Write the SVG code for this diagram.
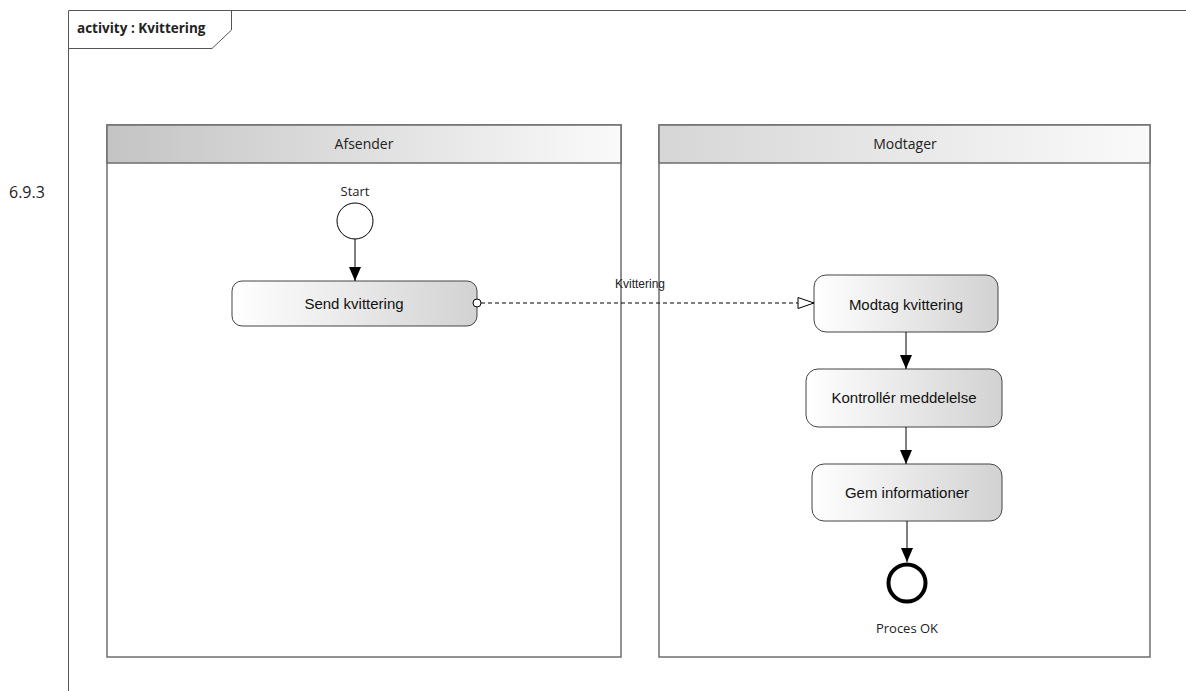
<svg xmlns="http://www.w3.org/2000/svg" width="1186" height="691" viewBox="0 0 1186 691">
<style>
.frame{fill:none;stroke:#555;stroke-width:1}
.lane{fill:#fff;stroke:#6e6e6e;stroke-width:1.5}
.hdr{stroke:#6e6e6e;stroke-width:1.5}
.cal{font-family:"Open Sans","Noto Sans",sans-serif;fill:#222}
.act{fill:url(#actGrad);stroke:#444;stroke-width:1}
.atxt{font-family:"Liberation Sans",Arial,sans-serif;font-size:15px;fill:#111;text-anchor:middle}
.flow{fill:none;stroke:#000;stroke-width:1}
</style>
<defs>
<linearGradient id="hdrGrad" x1="0" y1="0" x2="1" y2="0">
<stop offset="0" stop-color="#c4c4c4"/>
<stop offset="1" stop-color="#fafafa"/>
</linearGradient>
<linearGradient id="hdrGrad2" x1="0" y1="0" x2="1" y2="0">
<stop offset="0" stop-color="#d6d6d6"/>
<stop offset="1" stop-color="#fafafa"/>
</linearGradient>
<linearGradient id="actGrad" x1="0" y1="0" x2="1" y2="0">
<stop offset="0" stop-color="#ffffff"/>
<stop offset="1" stop-color="#d2d2d2"/>
</linearGradient>
<marker id="filled" markerWidth="14" markerHeight="16" refX="14" refY="8" orient="auto" markerUnits="userSpaceOnUse">
<path d="M0,2 L14,8 L0,14 Z" fill="#000"/>
</marker>
<marker id="open" markerWidth="20" markerHeight="14" refX="17" refY="7" orient="auto" markerUnits="userSpaceOnUse">
<path d="M1,1.5 L17,7 L1,12.5 Z" fill="#fff" stroke="#000" stroke-width="1"/>
</marker>
</defs>
<rect width="1186" height="691" fill="#fff"/>
<g id="frame">
<path class="frame" d="M68.5,691 V10.5 H1186"/>
<path class="frame" d="M68.5,48.5 H212 L231.5,30 V10.5"/>
<text class="cal" x="77" y="33" font-size="13.5" font-weight="bold">activity : Kvittering</text>
</g>
<text id="section" class="cal" x="9" y="198" font-size="16" fill="#333">6.9.3</text>
<g id="lane-afsender">
<rect class="lane" x="107" y="125" width="514" height="532"/>
<rect class="hdr" x="107" y="125" width="514" height="38" fill="url(#hdrGrad)"/>
<text class="cal" x="364" y="149" font-size="14" text-anchor="middle">Afsender</text>
</g>
<g id="lane-modtager">
<rect class="lane" x="659" y="125" width="491" height="532"/>
<rect class="hdr" x="659" y="125" width="491" height="38" fill="url(#hdrGrad2)"/>
<text class="cal" x="905" y="149" font-size="14" text-anchor="middle">Modtager</text>
</g>
<g id="start">
<circle cx="355" cy="221" r="18" fill="#fff" stroke="#000" stroke-width="1"/>
<text class="cal" x="355" y="196" font-size="13" text-anchor="middle">Start</text>
</g>
<g id="send-kvittering">
<rect class="act" x="232" y="281" width="245" height="45" rx="10"/>
<text class="atxt" x="354" y="309">Send kvittering</text>
</g>
<g id="modtag-kvittering">
<rect class="act" x="814" y="275" width="184" height="57" rx="12"/>
<text class="atxt" x="906" y="310">Modtag kvittering</text>
</g>
<g id="kontroller-meddelelse">
<rect class="act" x="806" y="369" width="196" height="58" rx="12"/>
<text class="atxt" x="904" y="403">Kontrollér meddelelse</text>
</g>
<g id="gem-informationer">
<rect class="act" x="812" y="464" width="190" height="57" rx="12"/>
<text class="atxt" x="907" y="498">Gem informationer</text>
</g>
<g id="end">
<circle cx="907" cy="583" r="18.5" fill="#fff" stroke="#000" stroke-width="4"/>
<text class="cal" x="907" y="633" font-size="13" text-anchor="middle">Proces OK</text>
</g>
<g id="connectors">
<line class="flow" x1="355" y1="239" x2="355" y2="281" marker-end="url(#filled)"/>
<line class="flow" x1="906" y1="332" x2="906" y2="369" marker-end="url(#filled)"/>
<line class="flow" x1="906" y1="427" x2="906" y2="464" marker-end="url(#filled)"/>
<line class="flow" x1="907" y1="521" x2="907" y2="562" marker-end="url(#filled)"/>
<line class="flow" x1="481" y1="303" x2="814" y2="303" stroke-dasharray="4,3" marker-end="url(#open)"/>
<circle cx="477" cy="303" r="4" fill="#fff" stroke="#000" stroke-width="1"/>
<text x="640" y="288" font-family="Liberation Sans,Arial,sans-serif" font-size="12" fill="#222" text-anchor="middle">Kvittering</text>
</g>
</svg>
